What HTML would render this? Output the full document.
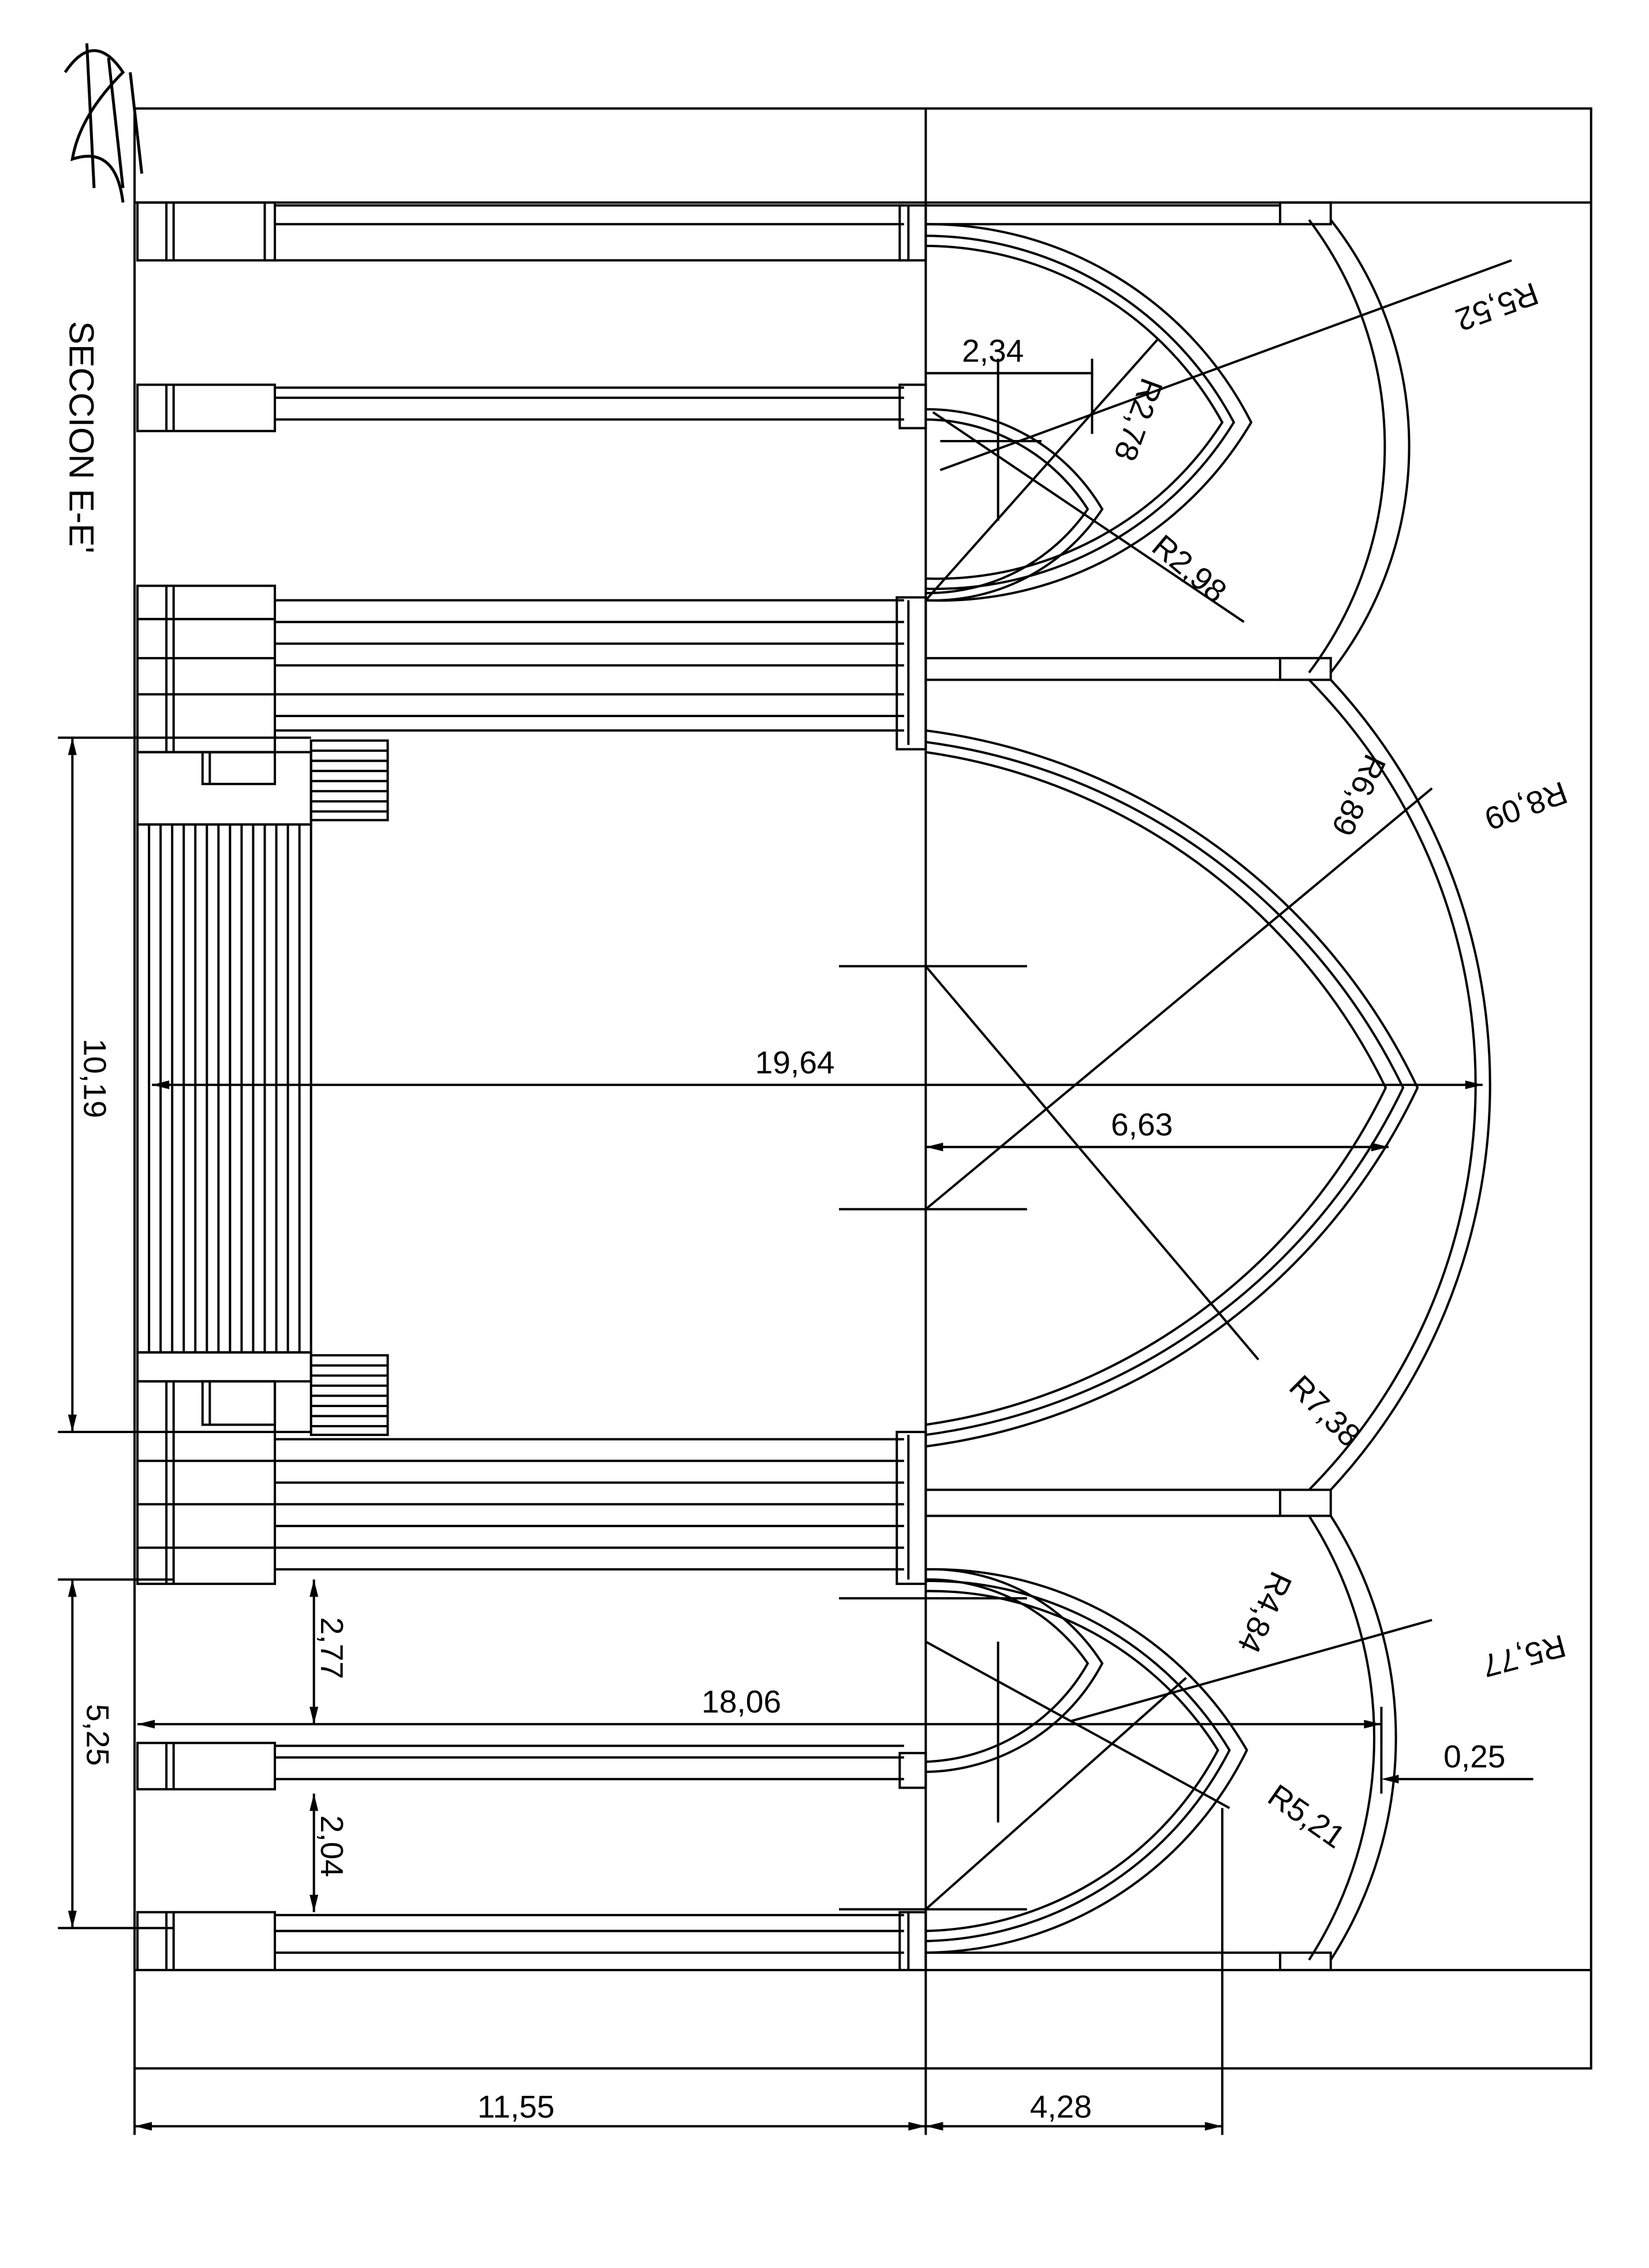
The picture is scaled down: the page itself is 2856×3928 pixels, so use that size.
<!DOCTYPE html>
<html><head><meta charset="utf-8"><style>
html,body{margin:0;padding:0;background:#fff}
svg{display:block}
text{font-family:"Liberation Sans",sans-serif;fill:#000}
</style></head><body>
<svg width="2856" height="3928" viewBox="0 0 1140 1568" xmlns="http://www.w3.org/2000/svg">
<rect width="1140" height="1568" fill="#fff"/>
<g fill="none" stroke="#000" stroke-width="1.6">
<rect x="93" y="75" width="1007" height="1355"/>
<line x1="93" y1="140" x2="1100" y2="140"/>
<line x1="93" y1="1362" x2="1100" y2="1362"/>
<line x1="640" y1="75" x2="640" y2="1476"/>
<line x1="93" y1="1430" x2="93" y2="1476"/>
<line x1="845" y1="1250" x2="845" y2="1476"/>
<line x1="93" y1="1470" x2="845" y2="1470"/>
<line x1="50" y1="510" x2="50" y2="990"/>
<line x1="40" y1="510" x2="215" y2="510"/>
<line x1="40" y1="990" x2="215" y2="990"/>
<line x1="50" y1="1092" x2="50" y2="1333"/>
<line x1="40" y1="1092" x2="120" y2="1092"/>
<line x1="40" y1="1333" x2="120" y2="1333"/>
<line x1="217" y1="1092" x2="217" y2="1192"/>
<line x1="217" y1="1240" x2="217" y2="1322"/>

<g>
<rect x="95" y="140" width="95" height="40"/><line x1="115" y1="140" x2="115" y2="180"/><line x1="120" y1="140" x2="120" y2="180"/><line x1="183" y1="140" x2="183" y2="180"/>
<line x1="190" y1="142" x2="625" y2="142"/><line x1="190" y1="155" x2="625" y2="155"/><line x1="190" y1="180" x2="625" y2="180"/>
<rect x="95" y="266" width="95" height="32"/><line x1="115" y1="266" x2="115" y2="298"/><line x1="120" y1="266" x2="120" y2="298"/>
<line x1="190" y1="268" x2="625" y2="268"/><line x1="190" y1="275" x2="625" y2="275"/><line x1="190" y1="290" x2="625" y2="290"/>
<rect x="95" y="405" width="95" height="115"/><line x1="115" y1="405" x2="115" y2="520"/><line x1="120" y1="405" x2="120" y2="520"/>
<line x1="95" y1="428" x2="190" y2="428"/><line x1="95" y1="455" x2="190" y2="455"/><line x1="95" y1="480" x2="190" y2="480"/>
<line x1="190" y1="415" x2="625" y2="415"/><line x1="190" y1="430" x2="625" y2="430"/><line x1="190" y1="445" x2="625" y2="445"/><line x1="190" y1="460" x2="625" y2="460"/><line x1="190" y1="480" x2="625" y2="480"/><line x1="190" y1="495" x2="625" y2="495"/><line x1="190" y1="505" x2="625" y2="505"/>
<rect x="95" y="955" width="95" height="140"/><line x1="115" y1="955" x2="115" y2="1095"/><line x1="120" y1="955" x2="120" y2="1095"/>
<line x1="95" y1="1010" x2="190" y2="1010"/><line x1="95" y1="1040" x2="190" y2="1040"/><line x1="95" y1="1070" x2="190" y2="1070"/>
<line x1="190" y1="995" x2="625" y2="995"/><line x1="190" y1="1010" x2="625" y2="1010"/><line x1="190" y1="1025" x2="625" y2="1025"/><line x1="190" y1="1040" x2="625" y2="1040"/><line x1="190" y1="1055" x2="625" y2="1055"/><line x1="190" y1="1070" x2="625" y2="1070"/><line x1="190" y1="1085" x2="625" y2="1085"/>
<rect x="95" y="1205" width="95" height="32"/><line x1="115" y1="1205" x2="115" y2="1237"/><line x1="120" y1="1205" x2="120" y2="1237"/>
<line x1="190" y1="1207" x2="625" y2="1207"/><line x1="190" y1="1215" x2="625" y2="1215"/><line x1="190" y1="1230" x2="625" y2="1230"/>
<rect x="95" y="1322" width="95" height="40"/><line x1="115" y1="1322" x2="115" y2="1362"/><line x1="120" y1="1322" x2="120" y2="1362"/>
<line x1="190" y1="1324" x2="625" y2="1324"/><line x1="190" y1="1335" x2="625" y2="1335"/><line x1="190" y1="1350" x2="625" y2="1350"/>
<rect x="622" y="142" width="18" height="38"/><rect x="622" y="266" width="18" height="30"/>
<rect x="620" y="413" width="20" height="105"/><rect x="620" y="990" width="20" height="105"/>
<rect x="622" y="1212" width="18" height="24"/><rect x="622" y="1322" width="18" height="40"/>
<line x1="628" y1="142" x2="628" y2="180"/><line x1="628" y1="415" x2="628" y2="515"/><line x1="628" y1="992" x2="628" y2="1092"/><line x1="628" y1="1322" x2="628" y2="1362"/>
<line x1="640" y1="142" x2="885" y2="142"/><line x1="640" y1="155" x2="885" y2="155"/>
<line x1="640" y1="455" x2="885" y2="455"/><line x1="640" y1="470" x2="885" y2="470"/>
<line x1="640" y1="1030" x2="885" y2="1030"/><line x1="640" y1="1048" x2="885" y2="1048"/>
<line x1="640" y1="1350" x2="885" y2="1350"/><line x1="640" y1="1362" x2="885" y2="1362"/>
<rect x="885" y="140" width="35" height="15"/><rect x="885" y="455" width="35" height="15"/><rect x="885" y="1030" width="35" height="18"/><rect x="885" y="1350" width="35" height="12"/>
</g>

<rect x="95" y="520" width="120" height="50"/>
<rect x="140" y="520" width="50" height="22"/><line x1="145" y1="520" x2="145" y2="542"/>
<rect x="95" y="935" width="120" height="20"/>
<rect x="140" y="955" width="50" height="30"/><line x1="145" y1="955" x2="145" y2="985"/>
<rect x="95" y="570" width="120" height="365"/>
<line x1="103" y1="570" x2="103" y2="935"/><line x1="111" y1="570" x2="111" y2="935"/><line x1="119" y1="570" x2="119" y2="935"/><line x1="127" y1="570" x2="127" y2="935"/><line x1="135" y1="570" x2="135" y2="935"/><line x1="143" y1="570" x2="143" y2="935"/><line x1="151" y1="570" x2="151" y2="935"/><line x1="159" y1="570" x2="159" y2="935"/><line x1="167" y1="570" x2="167" y2="935"/><line x1="175" y1="570" x2="175" y2="935"/><line x1="183" y1="570" x2="183" y2="935"/><line x1="191" y1="570" x2="191" y2="935"/><line x1="199" y1="570" x2="199" y2="935"/><line x1="207" y1="570" x2="207" y2="935"/>
<rect x="215" y="512" width="53" height="55"/>
<line x1="215" y1="519" x2="268" y2="519"/><line x1="215" y1="526" x2="268" y2="526"/><line x1="215" y1="533" x2="268" y2="533"/><line x1="215" y1="540" x2="268" y2="540"/><line x1="215" y1="547" x2="268" y2="547"/><line x1="215" y1="554" x2="268" y2="554"/><line x1="215" y1="561" x2="268" y2="561"/>
<rect x="215" y="937" width="53" height="55"/>
<line x1="215" y1="944" x2="268" y2="944"/><line x1="215" y1="951" x2="268" y2="951"/><line x1="215" y1="958" x2="268" y2="958"/><line x1="215" y1="965" x2="268" y2="965"/><line x1="215" y1="972" x2="268" y2="972"/><line x1="215" y1="979" x2="268" y2="979"/><line x1="215" y1="986" x2="268" y2="986"/>

<path d="M640,155 A250,250 0 0 1 865,292 A250,250 0 0 1 640,415"/>
<path d="M640,163 A242,242 0 0 1 853,292 A242,242 0 0 1 640,407"/>
<path d="M640,170 A235,235 0 0 1 845,292 A235,235 0 0 1 640,400"/>
<path d="M640,283 A140,140 0 0 1 762,352 A140,140 0 0 1 640,415"/>
<path d="M640,290 A134,134 0 0 1 752,352 A134,134 0 0 1 640,410"/>
<path d="M905,152 A260,260 0 0 1 905,465"/>
<path d="M920,152 A253,253 0 0 1 920,465"/>
<path d="M640,505 A440,440 0 0 1 980,752 A440,440 0 0 1 640,1000"/>
<path d="M640,513 A430,430 0 0 1 970,752 A430,430 0 0 1 640,992"/>
<path d="M640,520 A420,420 0 0 1 958,752 A420,420 0 0 1 640,985"/>
<path d="M905,470 A398,398 0 0 1 905,1030"/>
<path d="M920,470 A411,411 0 0 1 920,1030"/>
<path d="M640,1085 A250,250 0 0 1 862,1210 A250,250 0 0 1 640,1350"/>
<path d="M640,1093 A242,242 0 0 1 850,1210 A242,242 0 0 1 640,1342"/>
<path d="M640,1100 A235,235 0 0 1 842,1210 A235,235 0 0 1 640,1335"/>
<path d="M640,1085 A140,140 0 0 1 762,1150 A140,140 0 0 1 640,1225"/>
<path d="M640,1092 A134,134 0 0 1 752,1150 A134,134 0 0 1 640,1218"/>
<path d="M905,1048 A284,284 0 0 1 905,1355"/>
<path d="M920,1048 A284,284 0 0 1 920,1355"/>

<line x1="580" y1="668" x2="710" y2="668"/><line x1="580" y1="836" x2="710" y2="836"/>
<line x1="640" y1="668" x2="870" y2="940"/><line x1="640" y1="836" x2="990" y2="545"/>
<line x1="580" y1="1105" x2="710" y2="1105"/><line x1="580" y1="1320" x2="710" y2="1320"/>
<line x1="690" y1="1135" x2="690" y2="1260"/>
<line x1="640" y1="1135" x2="850" y2="1250"/><line x1="640" y1="1320" x2="820" y2="1160"/>
<line x1="740" y1="1190" x2="990" y2="1120"/>
<line x1="690" y1="248" x2="690" y2="360"/><line x1="755" y1="248" x2="755" y2="300"/>
<line x1="650" y1="305" x2="720" y2="305"/>
<line x1="640" y1="415" x2="800" y2="235"/>
<line x1="645" y1="285" x2="860" y2="430"/>
<line x1="650" y1="325" x2="1045" y2="180"/>
<line x1="105" y1="750" x2="1025" y2="750"/>
<line x1="640" y1="793" x2="960" y2="793"/>
<line x1="95" y1="1192" x2="955" y2="1192"/>
<line x1="640" y1="258" x2="755" y2="258"/>
<line x1="960" y1="1230" x2="1060" y2="1230"/>
<line x1="955" y1="1180" x2="955" y2="1240"/>
</g>
<g fill="#000">
<path d="M93,1470 l12,-3 v6z"/><path d="M640,1470 l-12,-3 v6z"/><path d="M640,1470 l12,-3 v6z"/><path d="M845,1470 l-12,-3 v6z"/>
<path d="M50,510 l-3,12 h6z"/><path d="M50,990 l-3,-12 h6z"/><path d="M50,1092 l-3,12 h6z"/><path d="M50,1333 l-3,-12 h6z"/>
<path d="M105,750 l12,-3 v6z"/><path d="M1025,750 l-12,-3 v6z"/>
<path d="M640,793 l12,-3 v6z"/><path d="M960,793 l-12,-3 v6z"/>
<path d="M95,1192 l12,-3 v6z"/><path d="M955,1192 l-12,-3 v6z"/>
<path d="M955,1230 l12,-3 v6z"/>
<path d="M217,1092 l-3,12 h6z"/><path d="M217,1192 l-3,-12 h6z"/><path d="M217,1240 l-3,12 h6z"/><path d="M217,1322 l-3,-12 h6z"/>
</g>
<g font-size="22">
<text x="330" y="1464">11,55</text>
<text x="712" y="1464">4,28</text>
<text x="522" y="742">19,64</text>
<text x="768" y="785">6,63</text>
<text x="485" y="1184">18,06</text>
<text x="665" y="250">2,34</text>
<text x="998" y="1222">0,25</text>
<text transform="translate(58,718) rotate(90)">10,19</text>
<text transform="translate(60,1178) rotate(90)">5,25</text>
<text transform="translate(222,1118) rotate(90)">2,77</text>
<text transform="translate(222,1255) rotate(90)">2,04</text>
<text transform="translate(48,222) rotate(90)" font-size="24">SECCION E-E'</text>
<text transform="translate(1060,195) rotate(160)">R5,52</text>
<text transform="translate(1080,540) rotate(160)">R8,09</text>
<text transform="translate(1080,1130) rotate(165)">R5,77</text>
<text transform="translate(790,260) rotate(110)">R2,78</text>
<text transform="translate(795,380) rotate(40)">R2,98</text>
<text transform="translate(945,520) rotate(115)">R6,89</text>
<text transform="translate(890,960) rotate(45)">R7,38</text>
<text transform="translate(880,1085) rotate(115)">R4,84</text>
<text transform="translate(875,1245) rotate(35)">R5,21</text>
</g>
<path d="M45,50 q20,-30 40,0 q-30,30 -35,60 q30,-10 35,30 M60,30 l5,100 M75,40 l10,90 M90,50 l8,70" fill="none" stroke="#000" stroke-width="2"/>
</svg>
</body></html>
